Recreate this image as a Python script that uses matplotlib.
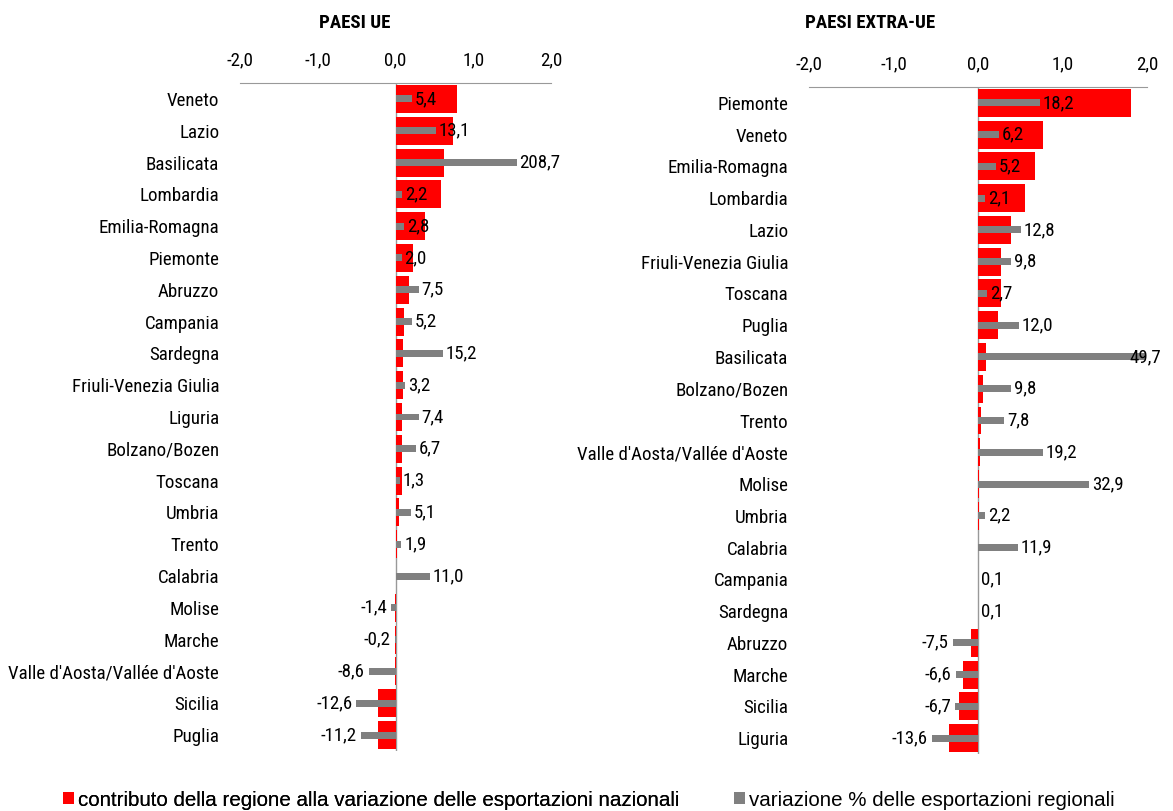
import numpy as np
import matplotlib
matplotlib.use("Agg")
import matplotlib.pyplot as plt
from matplotlib import font_manager

# The original uses Arial Narrow for labels, Arial for the legend
names = {f.name for f in font_manager.fontManager.ttflist}
narrow = None
for cand in ["Liberation Sans Narrow", "Arial Narrow", "Roboto Condensed",
             "Open Sans Condensed", "Noto Sans Condensed"]:
    if cand in names:
        narrow = cand
        break
if narrow:
    LBL_FONT, FS = [narrow, 'DejaVu Sans'], 13.6
else:
    LBL_FONT, FS = ['Liberation Sans', 'DejaVu Sans'], 12
plt.rcParams['font.family'] = LBL_FONT

# PAESI UE
ue_regions = ["Veneto", "Lazio", "Basilicata", "Lombardia", "Emilia-Romagna", "Piemonte",
              "Abruzzo", "Campania", "Sardegna", "Friuli-Venezia Giulia", "Liguria",
              "Bolzano/Bozen", "Toscana", "Umbria", "Trento", "Calabria", "Molise",
              "Marche", "Valle d'Aosta/Vallée d'Aoste", "Sicilia", "Puglia"]
ue_contrib = [0.79, 0.74, 0.62, 0.58, 0.38, 0.22, 0.18, 0.11, 0.10, 0.10, 0.09,
              0.08, 0.08, 0.05, 0.015, 0.005, -0.003, -0.002, -0.01, -0.22, -0.22]
ue_var = [5.4, 13.1, 208.7, 2.2, 2.8, 2.0, 7.5, 5.2, 15.2, 3.2, 7.4,
          6.7, 1.3, 5.1, 1.9, 11.0, -1.4, -0.2, -8.6, -12.6, -11.2]

# PAESI EXTRA-UE
xue_regions = ["Piemonte", "Veneto", "Emilia-Romagna", "Lombardia", "Lazio",
               "Friuli-Venezia Giulia", "Toscana", "Puglia", "Basilicata", "Bolzano/Bozen",
               "Trento", "Valle d'Aosta/Vallée d'Aoste", "Molise", "Umbria", "Calabria",
               "Campania", "Sardegna", "Abruzzo", "Marche", "Sicilia", "Liguria"]
xue_contrib = [1.81, 0.77, 0.68, 0.56, 0.39, 0.27, 0.27, 0.24, 0.09, 0.06,
               0.04, 0.02, 0.01, 0.01, 0.005, 0.0, 0.0, -0.08, -0.18, -0.22, -0.34]
xue_var = [18.2, 6.2, 5.2, 2.1, 12.8, 9.8, 2.7, 12.0, 49.7, 9.8,
           7.8, 19.2, 32.9, 2.2, 11.9, 0.1, 0.1, -7.5, -6.6, -6.7, -13.6]

ticks = [-2, -1, 0, 1, 2]
tick_labels = ["-2,0", "-1,0", "0,0", "1,0", "2,0"]

RED = "#FF0000"
GREY = "#808080"

fig = plt.figure(figsize=(11.73, 8.11), dpi=100)


def panel(rect, title, title_x, regions, contrib, var, cap):
    ax = fig.add_axes(rect)
    y = np.arange(len(regions))
    red = ax.barh(y, contrib, height=0.88, color=RED, zorder=2)
    ax.set_xlim(-2, 2)
    ax.set_ylim(len(regions) - 0.5, -0.5)
    ax.set_yticks(y)
    ax.set_yticklabels(regions, fontsize=FS)
    ax.tick_params(axis='y', length=0, pad=15)
    for s in ['left', 'right', 'bottom']:
        ax.spines[s].set_visible(False)
    ax.spines['top'].set_color('#999999')
    ax.axvline(0, color='#999999', lw=1, zorder=1)

    # secondary scale for the % change (the original truncates the long bars)
    ax2 = ax.twiny()
    ax2.set_xlim(-50, 50)
    shown = np.clip(var, -50, cap)
    grey = ax2.barh(y, shown, height=0.22, color=GREY, zorder=3)
    ax2.set_xticks([])
    for s in ax2.spines.values():
        s.set_visible(False)

    # twiny resets the primary ticks to the bottom, so set them afterwards
    ax.xaxis.tick_top()
    ax.set_xticks(ticks)
    ax.set_xticklabels(tick_labels, fontsize=FS)
    ax.tick_params(axis='x', length=0, pad=10)

    for yi, v, s in zip(y, var, shown):
        lbl = f"{v:.1f}".replace('.', ',')
        if v >= 0:
            ax2.annotate(lbl, (min(s, 44), yi), xytext=(2, 0), textcoords='offset points',
                         ha='left', va='center', fontsize=FS)
        else:
            ax2.annotate(lbl, (s, yi), xytext=(-3, 0), textcoords='offset points',
                         ha='right', va='center', fontsize=FS)
    fig.text(title_x, 1 - 23 / 811, title, fontsize=FS, fontweight='bold',
             ha='center', va='center')
    return red, grey


red, grey = panel([240 / 1173, 60 / 811, 311 / 1173, 668 / 811], "PAESI UE", 355 / 1173,
                  ue_regions, ue_contrib, ue_var, 39)
panel([809 / 1173, 57 / 811, 338 / 1173, 667 / 811], "PAESI EXTRA-UE", 870 / 1173,
      xue_regions, xue_contrib, xue_var, 50)

leg_kw = dict(loc='center left', frameon=False, handlelength=0.55, handleheight=0.55,
              handletextpad=0.2, borderpad=0, borderaxespad=0,
              prop={'family': ['Liberation Sans', 'DejaVu Sans'], 'size': 14.8})
leg1 = fig.legend([red], ["contributo della regione alla variazione delle esportazioni nazionali"],
                  bbox_to_anchor=(63 / 1173, 1 - 800 / 811), **leg_kw)
fig.add_artist(leg1)
fig.legend([grey], ["variazione % delle esportazioni regionali"],
           bbox_to_anchor=(734 / 1173, 1 - 800 / 811), **leg_kw)

fig.savefig("out.png", dpi=100)
